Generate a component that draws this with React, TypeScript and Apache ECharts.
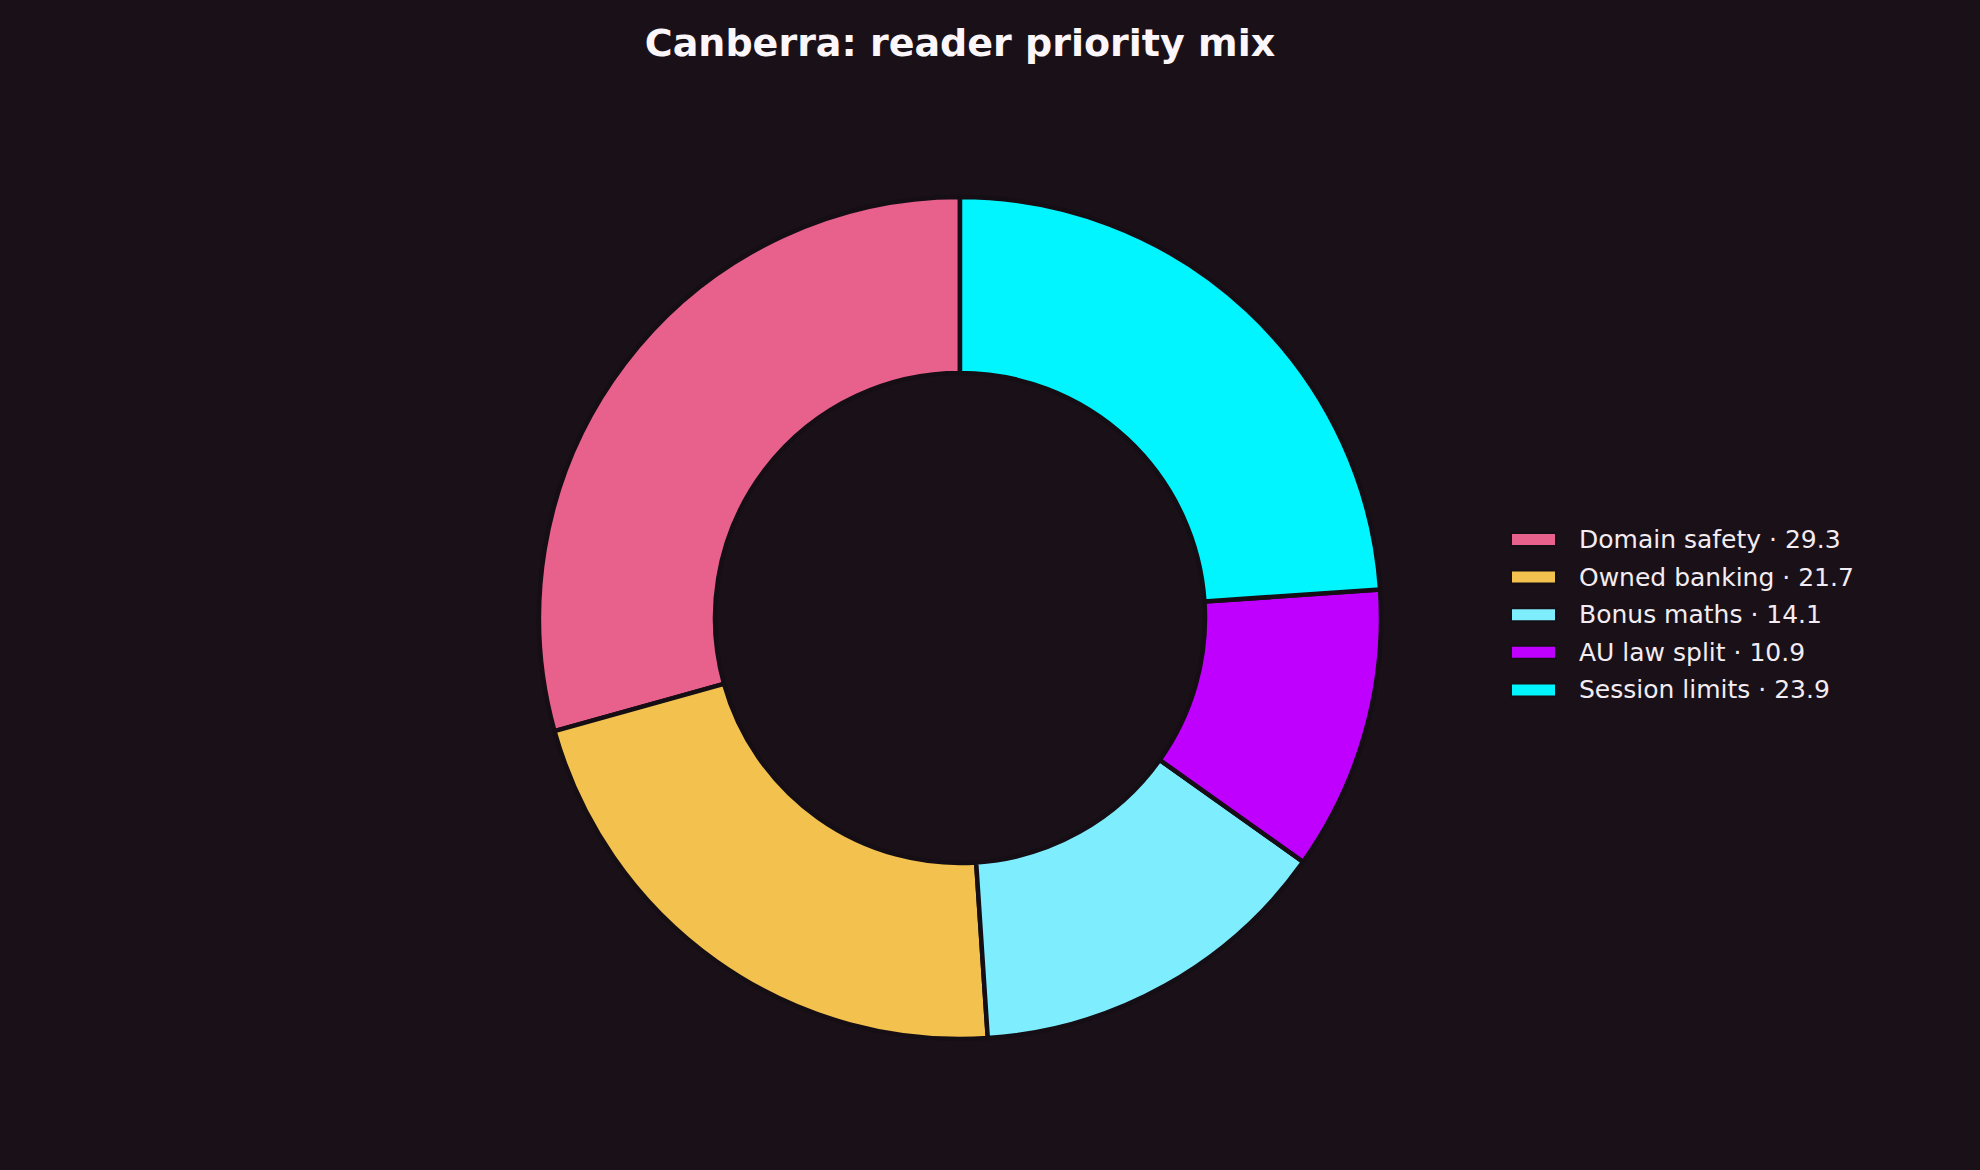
import { FC, useEffect, useRef } from "react";
import * as echarts from "echarts";

// 数据
const categories = ["Domain safety", "Owned banking", "Bonus maths", "AU law split", "Session limits"];
const values = [29.3, 21.7, 14.1, 10.9, 23.9];
const colors = ["#e8608c", "#f2c14e", "#7eeeff", "#bf00ff", "#00f5ff"];

const BG = "#1a1118";

const App: FC = () => {
    const chartRef = useRef<HTMLDivElement>(null);

    useEffect(() => {
        document.body.style.margin = "0";
        document.body.style.background = BG;
        if (!chartRef.current) return;
        const chart = echarts.init(chartRef.current, undefined, { renderer: "svg" });

        const pieData = categories.map((name, i) => ({
            name,
            value: values[i],
            itemStyle: { color: colors[i] },
        }));

        chart.setOption({
            animation: false,
            backgroundColor: BG,
            title: {
                text: "Canberra: reader priority mix",
                left: 960,
                textAlign: "center",
                top: 24,
                padding: 0,
                textStyle: {
                    color: "#fbf6fa",
                    fontFamily: "DejaVu Sans",
                    fontWeight: "bold",
                    fontSize: 38,
                },
            },
            legend: {
                orient: "vertical",
                left: 1510,
                top: 527,
                padding: 0,
                itemWidth: 45,
                itemHeight: 13,
                itemGap: 12.6,
                icon: "rect",
                data: categories,
                formatter: (name: string) => `${name} · ${values[categories.indexOf(name)]}`,
                textStyle: {
                    color: "#f3ecf2",
                    fontFamily: "DejaVu Sans",
                    fontSize: 25,
                    lineHeight: 25,
                    padding: [0, 0, 0, 18],
                },
            },
            series: [
                {
                    type: "pie",
                    center: [960, 618],
                    radius: [245, 421],
                    startAngle: 90,
                    clockwise: false,
                    label: { show: false },
                    labelLine: { show: false },
                    emphasis: { disabled: true },
                    itemStyle: { borderColor: "#150e14", borderWidth: 4.5 },
                    data: pieData,
                },
            ],
        });

        return () => {
            chart.dispose();
        };
    }, []);

    return (
        <div
            ref={chartRef}
            style={{ position: "fixed", left: 0, top: 0, width: 1980, height: 1170 }}
        />
    );
};

export default App;
